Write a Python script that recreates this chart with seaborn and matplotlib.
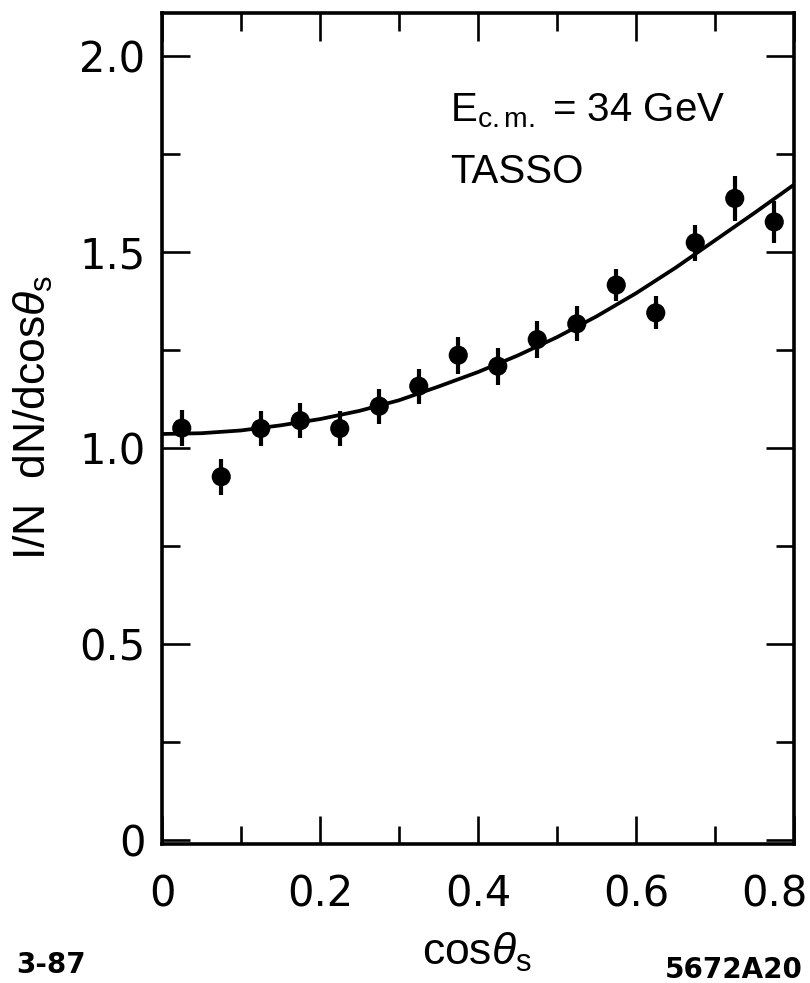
import numpy as np
import pandas as pd
import matplotlib
matplotlib.use("Agg")
import matplotlib.pyplot as plt
from matplotlib.ticker import FixedLocator, FixedFormatter
import seaborn as sns

# ---- data ----
cos_theta = [0.025, 0.075, 0.125, 0.175, 0.225, 0.275, 0.325, 0.375,
             0.425, 0.475, 0.525, 0.575, 0.625, 0.675, 0.725, 0.775]
dist = [1.051, 0.927, 1.050, 1.070, 1.050, 1.107, 1.158, 1.237,
        1.209, 1.277, 1.317, 1.416, 1.345, 1.524, 1.637, 1.577]
dist_err = [0.046, 0.046, 0.045, 0.045, 0.045, 0.045, 0.045, 0.047,
            0.047, 0.047, 0.045, 0.042, 0.042, 0.046, 0.058, 0.053]

curve_x = [0.00, 0.05, 0.10, 0.15, 0.20, 0.25, 0.30, 0.35, 0.40,
           0.45, 0.50, 0.55, 0.60, 0.65, 0.70, 0.75, 0.80]
curve_y = [1.036, 1.038, 1.045, 1.058, 1.074, 1.095, 1.122, 1.157, 1.194,
           1.236, 1.283, 1.336, 1.395, 1.460, 1.530, 1.600, 1.672]

x_major = [0, 0.2, 0.4, 0.6, 0.8]
x_major_labels = ["0", "0.2", "0.4", "0.6", "0.8"]
x_minor = [0.1, 0.3, 0.5, 0.7]
y_major = [0, 0.5, 1.0, 1.5, 2.0]
y_major_labels = ["0", "0.5", "1.0", "1.5", "2.0"]
y_minor = [0.25, 0.75, 1.25, 1.75]

sns.set_theme(style="white")
plt.rcParams["font.family"] = ["DejaVu Sans"]
plt.rcParams["mathtext.fontset"] = "custom"
plt.rcParams["mathtext.rm"] = "Liberation Sans"
plt.rcParams["mathtext.it"] = "Liberation Sans:italic"
plt.rcParams["mathtext.bf"] = "Liberation Sans:bold"

fig = plt.figure(figsize=(8.1, 9.83), dpi=100)
ax = fig.add_axes([0.2, 1 - 844 / 983, 632 / 810, 831 / 983])

pts = pd.DataFrame({"x": cos_theta, "y": dist, "err": dist_err})
crv = pd.DataFrame({"x": curve_x, "y": curve_y})

sns.lineplot(data=crv, x="x", y="y", ax=ax, color="black", linewidth=2.7,
             sort=True, legend=False)
ax.errorbar(pts["x"], pts["y"], yerr=pts["err"], fmt="none",
            ecolor="black", elinewidth=3.0, capsize=0)
sns.scatterplot(data=pts, x="x", y="y", ax=ax, color="black", s=190,
                edgecolor="none", legend=False, zorder=5)

ax.set_xlim(0, 0.8)
ax.set_ylim(-0.010, 2.110)

# last x tick label is drawn separately (shifted inward, as in the reference)
shown_x_labels = x_major_labels[:-1] + [""]
ax.xaxis.set_major_locator(FixedLocator(x_major))
ax.xaxis.set_major_formatter(FixedFormatter(shown_x_labels))
ax.xaxis.set_minor_locator(FixedLocator(x_minor))
ax.yaxis.set_major_locator(FixedLocator(y_major))
ax.yaxis.set_major_formatter(FixedFormatter(y_major_labels))
ax.yaxis.set_minor_locator(FixedLocator(y_minor))

ax.tick_params(which="both", direction="in", top=True, right=True,
               bottom=True, left=True, color="black", width=1.9)
ax.tick_params(which="major", length=20)
ax.tick_params(which="minor", length=13)
ax.tick_params(axis="x", which="major", labelsize=30, pad=21)
ax.tick_params(axis="y", which="major", labelsize=30, pad=12)
for lab in ax.get_xticklabels() + ax.get_yticklabels():
    lab.set_color("black")

ax.annotate(x_major_labels[-1], xy=(x_major[-1], 0),
            xycoords=("data", "axes fraction"),
            xytext=(-14, -21), textcoords="offset points",
            ha="center", va="top", fontsize=30, color="black")

for sp in ax.spines.values():
    sp.set_visible(True)
    sp.set_color("black")
    sp.set_linewidth(2.6)

ax.set_xlabel(r"cos$\theta_{\mathrm{s}}$", fontsize=32,
              family="Liberation Sans", color="black")
ax.set_ylabel(r"I/N  dN/dcos$\theta_{\mathrm{s}}$", fontsize=32,
              family="Liberation Sans", color="black")
ax.xaxis.set_label_coords(0.498, -0.104)
ax.yaxis.set_label_coords(-0.17, 0.513)

ax.text(0.456, 0.869, r"E$_{\mathrm{c.m.}}$ = 34 GeV", transform=ax.transAxes,
        fontsize=29, family="Liberation Sans", color="black",
        ha="left", va="baseline")
ax.text(0.456, 0.795, "TASSO", transform=ax.transAxes,
        fontsize=29, family="Liberation Sans", color="black",
        ha="left", va="baseline")

fig.text(16 / 810, 1 - 973 / 983, "3-87", fontsize=20, weight="bold",
         color="black", ha="left", va="baseline")
fig.text(803 / 810, 1 - 978 / 983, "5672A20", fontsize=20, weight="bold",
         color="black", ha="right", va="baseline")

fig.savefig("out.png", dpi=100, facecolor="white")
